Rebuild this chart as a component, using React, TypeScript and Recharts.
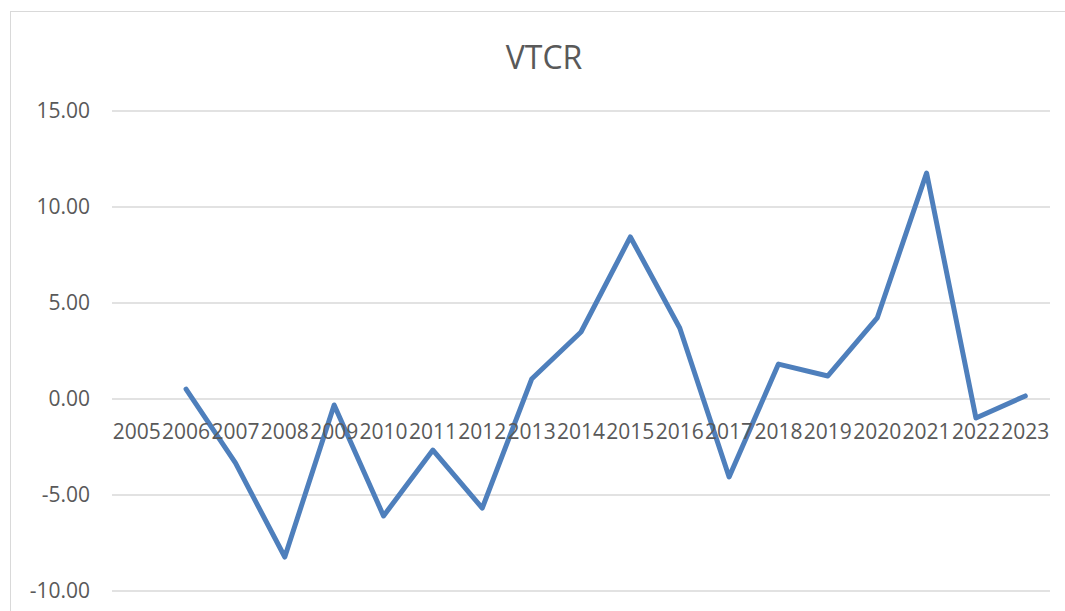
import React from 'react';
import { LineChart, Line, XAxis, YAxis, CartesianGrid } from 'recharts';

const years = ['2005','2006','2007','2008','2009','2010','2011','2012','2013','2014','2015','2016','2017','2018','2019','2020','2021','2022','2023'];
const vtcr: (number | null)[] = [null, 0.52, -3.33, -8.23, -0.31, -6.09, -2.66, -5.68, 1.04, 3.49, 8.44, 3.70, -4.06, 1.82, 1.20, 4.22, 11.77, -0.99, 0.16];
const yTicks = [-10, -5, 0, 5, 10, 15];
const title = 'VTCR';

const data = years.map((y, i) => ({ year: y, value: vtcr[i] }));

const W = 1065;
const H = 611;
const MARGIN = { top: 111, right: 15, bottom: 0, left: 0 };
const Y_AXIS_W = 112;
const X_AXIS_H = 20;
const PLOT_TOP = MARGIN.top;
const PLOT_H = H - MARGIN.top - MARGIN.bottom - X_AXIS_H;
const PLOT_W = W - MARGIN.left - MARGIN.right - Y_AXIS_W;
const HALF_BAND = PLOT_W / years.length / 2;
const Y_MIN = yTicks[0];
const Y_MAX = yTicks[yTicks.length - 1];
const ZERO_Y = PLOT_TOP + (PLOT_H * (Y_MAX - 0)) / (Y_MAX - Y_MIN);

const FONT = '"Open Sans", sans-serif';
const TEXT = '#595959';

const XTick = (props: any) => {
  const { x, payload } = props;
  return (
    <text x={x} y={ZERO_Y + 40} textAnchor="middle" fill={TEXT} fontSize={21} fontFamily={FONT}>
      {payload.value}
    </text>
  );
};

export default function App() {
  return (
    <div style={{ position: 'absolute', left: 0, top: 0, width: W, height: H, background: '#fff', overflow: 'hidden' }}>
      <div
        style={{
          position: 'absolute',
          left: 10,
          top: 11,
          width: W + 20,
          height: H + 20,
          border: '1.5px solid #d9d9d9',
          boxSizing: 'border-box',
        }}
      />
      <div
        style={{
          position: 'absolute',
          left: 0,
          width: 1088,
          top: 35,
          textAlign: 'center',
          fontFamily: FONT,
          fontSize: 32,
          color: TEXT,
          lineHeight: '44px',
        }}
      >
        {title}
      </div>
      <div style={{ position: 'absolute', left: 0, top: 0 }}>
        <LineChart width={W} height={H} data={data} margin={MARGIN}>
          <CartesianGrid vertical={false} stroke="#d9d9d9" strokeWidth={1.5} />
          <XAxis
            dataKey="year"
            type="category"
            axisLine={false}
            tickLine={false}
            height={X_AXIS_H}
            interval={0}
            padding={{ left: HALF_BAND, right: HALF_BAND }}
            tick={<XTick />}
          />
          <YAxis
            domain={[Y_MIN, Y_MAX]}
            ticks={yTicks}
            width={Y_AXIS_W}
            axisLine={false}
            tickLine={false}
            tickSize={0}
            tickMargin={22}
            tickFormatter={(v: number) => v.toFixed(2)}
            tick={{ fill: TEXT, fontSize: 21, fontFamily: FONT }}
          />
          <Line
            type="linear"
            dataKey="value"
            stroke="#4e7fbc"
            strokeWidth={5}
            strokeLinejoin="round"
            strokeLinecap="round"
            dot={false}
            isAnimationActive={false}
            connectNulls={false}
          />
        </LineChart>
      </div>
    </div>
  );
}
